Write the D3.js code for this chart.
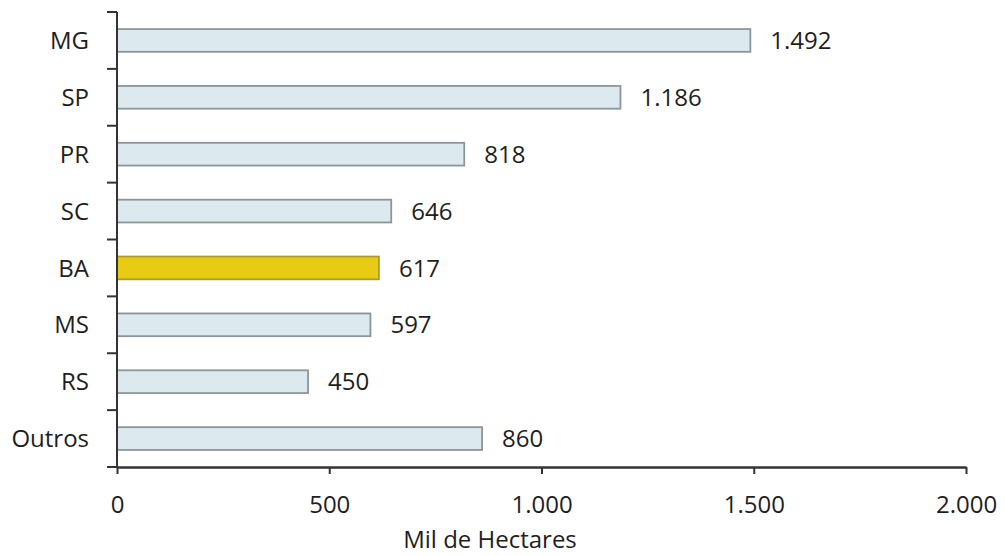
<!DOCTYPE html>
<html>
<head>
<meta charset="utf-8">
<script src="https://cdn.jsdelivr.net/npm/d3@7"></script>
<style>
  html, body { margin: 0; padding: 0; background: #ffffff; }
  svg { display: block; font-family: "Open Sans", "Noto Sans", sans-serif; }
</style>
</head>
<body>
<svg id="chart" width="1005" height="556"></svg>
<script>
// Área por estado, em mil hectares
const estados = ["MG", "SP", "PR", "SC", "BA", "MS", "RS", "Outros"];
const area = [1492, 1186, 818, 646, 617, 597, 450, 860];
const destaque = ["BA"];
const xTicks = [0, 500, 1000, 1500, 2000];
const xTitulo = "Mil de Hectares";

const data = estados.map((e, i) => ({ estado: e, valor: area[i] }));

const ptBR = d3.formatLocale({ decimal: ",", thousands: ".", grouping: [3], currency: ["R$", ""] });
const fmt = ptBR.format(",d");

const svg = d3.select("#chart");
const plotLeft = 117, plotRight = 966, plotTop = 12, plotBottom = 467;

const x = d3.scaleLinear().domain([0, 2000]).range([plotLeft, plotRight]);
const y = d3.scaleBand().domain(estados).range([plotTop, plotBottom])
  .paddingInner(0.6).paddingOuter(0.3);

const axisColor = "#333333";
const textColor = "#1e1e1e";

// Bars
svg.append("g").selectAll("rect").data(data).join("rect")
  .attr("x", x(0))
  .attr("y", d => y(d.estado))
  .attr("width", d => x(d.valor) - x(0))
  .attr("height", y.bandwidth())
  .attr("fill", d => destaque.includes(d.estado) ? "#e8cc14" : "#dce9ef")
  .attr("stroke", d => destaque.includes(d.estado) ? "#b09a2c" : "#8c9699")
  .attr("stroke-width", 1.8);

// Value labels
svg.append("g").selectAll("text").data(data).join("text")
  .attr("x", d => x(d.valor) + 20)
  .attr("y", d => y(d.estado) + y.bandwidth() / 2)
  .attr("dy", "0.36em")
  .attr("font-size", 24)
  .attr("fill", textColor)
  .text(d => fmt(d.valor));

// Y axis: line, ticks at category boundaries, labels at band centres
const gy = svg.append("g");
const step = y.step();
const bounds = estados.map(e => y(e) - step * y.paddingInner() / 2);
bounds.push(bounds[bounds.length - 1] + step);
gy.append("line")
  .attr("x1", plotLeft).attr("x2", plotLeft)
  .attr("y1", bounds[0]).attr("y2", bounds[bounds.length - 1])
  .attr("stroke", axisColor).attr("stroke-width", 2);
gy.selectAll("line.tick").data(bounds).join("line")
  .attr("class", "tick")
  .attr("x1", plotLeft - 10).attr("x2", plotLeft)
  .attr("y1", d => d).attr("y2", d => d)
  .attr("stroke", axisColor).attr("stroke-width", 2);
gy.selectAll("text").data(estados).join("text")
  .attr("x", plotLeft - 28)
  .attr("y", d => y(d) + y.bandwidth() / 2)
  .attr("dy", "0.36em")
  .attr("text-anchor", "end")
  .attr("font-size", 24)
  .attr("fill", textColor)
  .text(d => d);

// X axis
const gx = svg.append("g")
  .attr("transform", `translate(0,${plotBottom})`)
  .call(d3.axisBottom(x).tickValues(xTicks).tickFormat(fmt).tickSize(7).tickPadding(22).tickSizeOuter(0));
gx.select(".domain").attr("stroke", axisColor).attr("stroke-width", 2.5);
gx.selectAll(".tick line").attr("stroke", axisColor).attr("stroke-width", 2);
gx.selectAll(".tick text")
  .attr("font-size", 24)
  .attr("font-family", "\"Open Sans\", \"Noto Sans\", sans-serif")
  .attr("fill", textColor);

svg.append("text")
  .attr("x", 490)
  .attr("y", 548)
  .attr("text-anchor", "middle")
  .attr("font-size", 24)
  .attr("fill", textColor)
  .text(xTitulo);
</script>
</body>
</html>
